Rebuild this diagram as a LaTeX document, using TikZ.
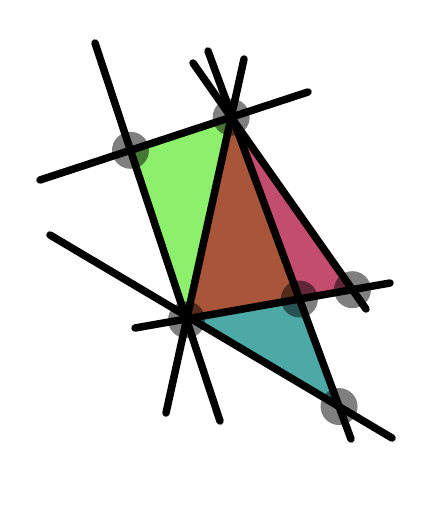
\documentclass[tikz,border=0pt]{standalone}
\usepackage{xcolor}
\usepackage{tikz}
\usetikzlibrary{calc}

\definecolor{triGreen}{HTML}{8CF06C}
\definecolor{triBrown}{HTML}{A9553A}
\definecolor{triPink}{HTML}{C44D6F}
\definecolor{triTeal}{HTML}{4DA9A6}

\begin{document}
\begin{tikzpicture}[
  x=1pt, y=-1pt,
  ln/.style={line width=7.5pt, black, line cap=round},
  face/.style={draw=none},
  pt/.style={circle, fill=black, fill opacity=0.5, minimum size=37pt, inner sep=0pt}
]
\useasboundingbox (0,0) rectangle (444,508);

% line ends
\coordinate (l1a) at (95,43);   \coordinate (l1b) at (220,421);
\coordinate (l2a) at (40,180);  \coordinate (l2b) at (308,92);
\coordinate (l3a) at (244,59);  \coordinate (l3b) at (166,413);
\coordinate (l4a) at (208,51);  \coordinate (l4b) at (351,439);
\coordinate (l5a) at (193,63);  \coordinate (l5b) at (366,309);
\coordinate (l6a) at (50,235);  \coordinate (l6b) at (392,438);
\coordinate (l7a) at (135,328); \coordinate (l7b) at (390,283);

% vertices
\coordinate (A) at (intersection of l2a--l2b and l3a--l3b);
\coordinate (B) at (intersection of l1a--l1b and l2a--l2b);
\coordinate (C) at (intersection of l1a--l1b and l3a--l3b);
\coordinate (D) at (intersection of l4a--l4b and l7a--l7b);
\coordinate (E) at (intersection of l5a--l5b and l7a--l7b);
\coordinate (F) at (intersection of l4a--l4b and l6a--l6b);

% faces
\fill[face, triGreen] (B) -- (A) -- (C) -- cycle;
\fill[face, triBrown] (A) -- (C) -- (D) -- cycle;
\fill[face, triPink]  (A) -- (D) -- (E) -- cycle;
\fill[face, triTeal]  (C) -- (D) -- (F) -- cycle;

% lines
\foreach \i in {1,...,7}
  \draw[ln] (l\i a) -- (l\i b);

% points
\foreach \p in {A,B,C,D,E,F}
  \node[pt] (n\p) at (\p) {};
\end{tikzpicture}
\end{document}
